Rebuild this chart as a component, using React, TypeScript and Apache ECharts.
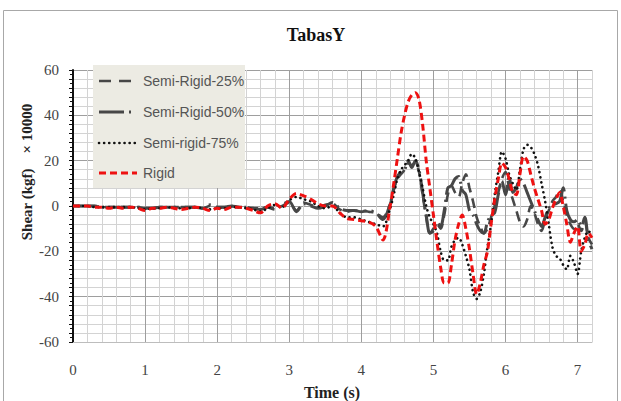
import React, { useEffect, useRef } from "react";
import * as echarts from "echarts";

const time = [
  0, 0.1, 0.2, 0.3, 0.4, 0.5, 0.6, 0.7, 0.8, 0.9,
  1.0, 1.1, 1.2, 1.3, 1.4, 1.5, 1.6, 1.7, 1.8, 1.9,
  2.0, 2.1, 2.2, 2.3, 2.4, 2.5, 2.6, 2.7, 2.8, 2.9,
  3.0, 3.1, 3.2, 3.3, 3.4, 3.5, 3.6, 3.7, 3.8, 3.9,
  4.0, 4.1, 4.2, 4.3, 4.4,
  4.45, 4.5, 4.55, 4.6, 4.65, 4.7, 4.75, 4.8, 4.85, 4.9,
  4.95, 5.0, 5.05, 5.1, 5.15, 5.2, 5.25, 5.3, 5.35, 5.4,
  5.45, 5.5, 5.55, 5.6, 5.65, 5.7, 5.75, 5.8, 5.85, 5.9,
  5.95, 6.0, 6.05, 6.1, 6.15, 6.2, 6.25, 6.3, 6.35, 6.4,
  6.45, 6.5, 6.55, 6.6, 6.65, 6.7, 6.75, 6.8, 6.85, 6.9,
  6.95, 7.0, 7.05, 7.1, 7.15, 7.2,
];

const semiRigid25 = [
  0, 0, 0, 0, -0.5, -0.5, -0.5, -0.5, -0.5, -0.5,
  -1, -1, -0.5, -0.5, -0.5, -0.5, -0.5, -0.5, -1, 0,
  -0.5, -0.5, 0, -0.5, -0.5, -1, -1, -0.5, -1, 0,
  1.5, -2, 1.5, 0.5, -0.5, 0.5, 1, -1.5, -2.5, -2,
  -2, -2.5, -3, -5, 1,
  7, 12, 14, 16, 19, 18, 19, 15, 5, -5,
  -12, -10, -8, -10, -4, 5, 9, 6, 4, 10,
  14, 8, 2, -5, -9, -12, -10, -5, 0, 6,
  12, 15, 8, 3, -2, -7, -9, -6, 0, -3,
  -8, -11, -6, -2, 2, 4, 7, 2, -4, -8,
  -10, -8, -11, -7, -14, -17,
];

const semiRigid50 = [
  0, 0, 0, 0, -0.5, -0.5, -0.5, -0.5, -0.5, -0.5,
  -1, -1, -0.5, -0.5, -0.5, -0.5, -0.5, -0.5, -1, 0.5,
  -0.5, -0.5, 0, -0.5, -0.5, -1, -1.5, -0.5, -1.5, 0.5,
  2, -2.5, 1, 0, -1, 0, 1.5, -1, -2, -2,
  -2.5, -2, -3, -6, 1,
  8, 13, 15, 16, 20, 17, 20, 16, 6, -4,
  -12, -11, -7, -9, -2, 8, 9, 12, 13, 7,
  5, -2, -4, -8, -11, -12, -7, -4, -3, 5,
  11, 5, 13, 6, 8, 12, 10, 6, 2, -2,
  -6, -9, -5, -1, 0, 1, 2, 8, -2, -6,
  -7, -6, -9, -5, -15, -19,
];

const semiRigid75 = [
  0, 0, 0, -0.5, -0.5, -0.5, -0.5, -0.5, -0.5, -1,
  -1.5, -1, -1, -0.5, -1, -1, -1, -0.5, -1, -1.5,
  -1, -1, -0.5, -0.5, -1, -1.5, -2.5, -1, 0.5, -0.5,
  2.5, 4, 3, 2, 0, -1, 0, -3, -5, -5,
  -6, -7, -8, -9, -1,
  5, 12, 16, 18, 20, 23, 21, 15, 8, 0,
  -5, -8, -12, -20, -24, -24, -18, -15, -14, -17,
  -22, -28, -38, -41, -38, -30, -18, -8, 5, 15,
  24, 21, 14, 10, 7, 16, 25, 27, 26, 23,
  18, 10, 2, -8, -18, -22, -23, -26, -28, -22,
  -25, -30, -20, -14, -11, -13,
];

const rigid = [
  0, 0, 0, -0.5, -0.5, -1, -0.5, -1, -0.5, -1,
  -2, -1, -1, -0.5, -1, -1.5, -1, -0.5, -1, -2,
  -1, -1.5, -0.5, -0.5, -1, -2, -3, 0, 1, -1,
  3, 5.5, 4.5, 3, 1, 0, 0, -3, -5.5, -6,
  -6.5, -7, -9, -15, 0,
  10, 21, 32, 40, 46, 49, 50, 47, 36, 20,
  8, -4, -16, -27, -34, -34, -26, -15, -8, -4,
  -10, -19, -30, -39, -34, -26, -20, -8, 3, 12,
  19, 17, 12, 6, 5, 14, 22, 20, 14, 8,
  3, -2, -8, -6, -1, 3, 6, 0, -8, -16,
  -12, -9, -20, -17, -12, -14,
];

const seriesNames = ["Semi-Rigid-25%", "Semi-Rigid-50%", "Semi-rigid-75%", "Rigid"];
const seriesValues = [semiRigid25, semiRigid50, semiRigid75, rigid];
const xTickLabels = [0, 1, 2, 3, 4, 5, 6, 7];
const yTickLabels = [-60, -40, -20, 0, 20, 40, 60];

const GRAY = "#474747";
const lineStyles = [
  { color: GRAY, width: 2.6, type: [10, 6], cap: "butt" },
  { color: GRAY, width: 3, type: [24, 5, 2, 5], cap: "butt" },
  { color: "#111111", width: 2.6, type: [0.1, 5], cap: "round" },
  { color: "#ee1111", width: 3, type: [7, 4], cap: "butt" },
];

export default function App() {
  const ref = useRef<HTMLDivElement>(null);

  useEffect(() => {
    if (!ref.current) return;
    const chart = echarts.init(ref.current, null, { renderer: "svg" });
    const serif = "'Liberation Serif', 'DejaVu Serif', serif";
    const sans = "'Liberation Sans', Arial, sans-serif";
    const minor = "#d3d3d3";
    const major = "#9e9e9e";

    const legendY = [81, 112, 143, 173];
    const legendEls: any[] = [
      {
        type: "rect",
        z: 10,
        shape: { x: 93, y: 65, width: 152, height: 123 },
        style: { fill: "#ecebe3", stroke: "none" },
      },
    ];
    seriesNames.forEach((name, i) => {
      const ls = lineStyles[i];
      legendEls.push({
        type: "line",
        z: 11,
        shape: { x1: 99, y1: legendY[i], x2: 137, y2: legendY[i] },
        style: {
          stroke: ls.color,
          lineWidth: ls.width,
          lineDash: i === 0 ? [12, 8] : i === 1 ? [25, 5, 2, 8] : ls.type,
          lineCap: ls.cap,
        },
      });
      legendEls.push({
        type: "text",
        z: 11,
        x: 143,
        y: legendY[i],
        style: {
          text: name,
          fill: "#555555",
          font: `14px ${sans}`,
          verticalAlign: "middle",
          textAlign: "left",
        },
      });
    });

    chart.setOption({
      animation: false,
      backgroundColor: "#ffffff",
      grid: { left: 73, right: 29, top: 70, bottom: 59, containLabel: false },
      xAxis: {
        type: "value",
        min: 0,
        max: 7.2,
        interval: 0.2,
        axisLine: { show: true, onZero: false, lineStyle: { color: "#bdbdbd", width: 1 } },
        axisTick: { show: false },
        axisLabel: {
          margin: 20,
          fontFamily: serif,
          fontSize: 15,
          color: "#444444",
          formatter: (v: number) => {
            const r = Math.round(v * 1000) / 1000;
            return xTickLabels.indexOf(r) >= 0 ? String(r) : "";
          },
        },
        splitLine: {
          show: true,
          lineStyle: { color: [major, minor, minor, minor, minor], width: 1 },
        },
      },
      yAxis: {
        type: "value",
        min: -60,
        max: 60,
        interval: 4,
        axisLine: { show: true, onZero: false, lineStyle: { color: "#111111", width: 2 } },
        axisTick: { show: true, length: 4, lineStyle: { color: "#111111", width: 1 } },
        minorTick: { show: true, splitNumber: 2, length: 3, lineStyle: { color: "#111111", width: 1 } },
        axisLabel: {
          margin: 14,
          fontFamily: serif,
          fontSize: 15,
          color: "#444444",
          formatter: (v: number) => {
            const r = Math.round(v);
            return yTickLabels.indexOf(r) >= 0 ? String(r) : "";
          },
        },
        splitLine: {
          show: true,
          lineStyle: { color: [major, minor, minor, minor, minor], width: 1 },
        },
      },
      graphic: [
        {
          type: "rect",
          shape: { x: 3.5, y: 10.5, width: 614, height: 400 },
          style: { fill: "none", stroke: "#a8a8a8", lineWidth: 1 },
          silent: true,
        },
        {
          type: "text",
          x: 316,
          y: 35,
          style: {
            text: "TabasY",
            font: `bold 18px ${serif}`,
            fill: "#111111",
            textAlign: "center",
            verticalAlign: "middle",
          },
        },
        {
          type: "text",
          x: 27,
          y: 172,
          rotation: Math.PI / 2,
          style: {
            text: "Shear (kgf)    \u00d7 10000",
            font: `bold 15px ${serif}`,
            fill: "#222222",
            textAlign: "center",
            verticalAlign: "middle",
          },
        },
        {
          type: "text",
          x: 332,
          y: 392,
          style: {
            text: "Time (s)",
            font: `bold 16px ${serif}`,
            fill: "#222222",
            textAlign: "center",
            verticalAlign: "middle",
          },
        },
        ...legendEls,
      ],
      series: seriesNames.map((name, i) => ({
        name,
        type: "line",
        data: time.map((t, k) => [t, seriesValues[i][k]]),
        showSymbol: false,
        symbol: "none",
        smooth: 0.3,
        z: 2 + i,
        lineStyle: {
          color: lineStyles[i].color,
          width: lineStyles[i].width,
          type: lineStyles[i].type,
          cap: lineStyles[i].cap,
        },
      })),
    });

    return () => chart.dispose();
  }, []);

  return (
    <div
      ref={ref}
      style={{ position: "absolute", left: 0, top: 0, width: 621, height: 401 }}
    />
  );
}
